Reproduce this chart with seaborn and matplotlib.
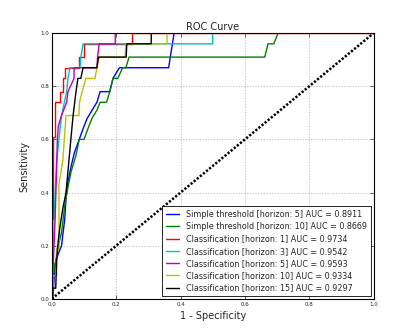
import numpy as np
import pandas as pd
import matplotlib
matplotlib.use("Agg")
import matplotlib.pyplot as plt
import seaborn as sns

labels = [
    "Simple threshold [horizon: 5] AUC = 0.8911",
    "Simple threshold [horizon: 10] AUC = 0.8669",
    "Classification [horizon: 1] AUC = 0.9734",
    "Classification [horizon: 3] AUC = 0.9542",
    "Classification [horizon: 5] AUC = 0.9593",
    "Classification [horizon: 10] AUC = 0.9334",
    "Classification [horizon: 15] AUC = 0.9297",
]
colors = ["#0000ff", "#008000", "#ff0000", "#00bfbf", "#bf00bf", "#bfbf00", "#000000"]

fpr_simple5 = [0, 0.005, 0.01, 0.02, 0.03, 0.04, 0.045, 0.05, 0.06, 0.07, 0.085, 0.1, 0.11, 0.125,
               0.14, 0.15, 0.18, 0.19, 0.21, 0.363, 0.38, 1.0]
tpr_simple5 = [0, 0.04, 0.13, 0.17, 0.2, 0.3, 0.4, 0.44, 0.5, 0.55, 0.6, 0.65, 0.68, 0.71,
               0.74, 0.78, 0.78, 0.83, 0.87, 0.87, 1.0, 1.0]

fpr_simple10 = [0, 0.005, 0.01, 0.02, 0.03, 0.04, 0.05, 0.06, 0.065, 0.075, 0.085, 0.1, 0.115, 0.125,
                0.14, 0.15, 0.17, 0.18, 0.19, 0.205, 0.22, 0.23, 0.24, 0.662, 0.672, 0.69, 0.703, 1.0]
tpr_simple10 = [0, 0.09, 0.13, 0.2, 0.25, 0.35, 0.42, 0.48, 0.5, 0.54, 0.6, 0.6, 0.65, 0.68,
                0.71, 0.74, 0.74, 0.78, 0.83, 0.83, 0.87, 0.87, 0.91, 0.91, 0.96, 0.96, 1.0, 1.0]

fpr_cls1 = [0, 0, 0.004, 0.004, 0.01, 0.01, 0.025, 0.025, 0.035, 0.035, 0.04, 0.04, 0.085, 0.085,
            0.1, 0.1, 0.25, 0.25, 1.0]
tpr_cls1 = [0, 0.3, 0.3, 0.61, 0.61, 0.74, 0.74, 0.78, 0.78, 0.83, 0.83, 0.87, 0.87, 0.91,
            0.91, 0.96, 0.96, 1.0, 1.0]

fpr_cls3 = [0, 0.005, 0.01, 0.015, 0.022, 0.03, 0.046, 0.05, 0.056, 0.0875, 0.09, 0.097, 0.5, 0.5, 1.0]
tpr_cls3 = [0, 0.2, 0.4, 0.52, 0.6, 0.69, 0.78, 0.83, 0.87, 0.87, 0.91, 0.96, 0.96, 1.0, 1.0]

fpr_cls5 = [0, 0.005, 0.01, 0.015, 0.017, 0.02, 0.03, 0.046, 0.05, 0.069, 0.069, 0.14, 0.142, 0.147,
            0.197, 0.197, 1.0]
tpr_cls5 = [0, 0.15, 0.3, 0.5, 0.6, 0.65, 0.69, 0.74, 0.78, 0.83, 0.87, 0.87, 0.91, 0.96,
            0.96, 1.0, 1.0]

fpr_cls10 = [0, 0.003, 0.003, 0.015, 0.015, 0.022, 0.022, 0.034, 0.044, 0.084, 0.086, 0.094, 0.106,
             0.134, 0.14, 0.147, 0.228, 0.23, 0.358, 0.358, 1.0]
tpr_cls10 = [0, 0.0, 0.087, 0.087, 0.19, 0.19, 0.43, 0.52, 0.69, 0.69, 0.74, 0.78, 0.83,
             0.83, 0.87, 0.91, 0.91, 0.96, 0.96, 1.0, 1.0]

fpr_cls15 = [0, 0.003, 0.003, 0.012, 0.015, 0.02, 0.025, 0.034, 0.044, 0.05, 0.059, 0.066, 0.075,
             0.081, 0.09, 0.097, 0.14, 0.145, 0.231, 0.233, 0.309, 0.309, 1.0]
tpr_cls15 = [0, 0.0, 0.04, 0.04, 0.15, 0.22, 0.27, 0.34, 0.4, 0.48, 0.6, 0.69, 0.78,
             0.83, 0.83, 0.87, 0.87, 0.91, 0.91, 0.96, 0.96, 1.0, 1.0]

curves = [
    (fpr_simple5, tpr_simple5), (fpr_simple10, tpr_simple10), (fpr_cls1, tpr_cls1),
    (fpr_cls3, tpr_cls3), (fpr_cls5, tpr_cls5), (fpr_cls10, tpr_cls10), (fpr_cls15, tpr_cls15),
]

frames = []
for lab, (f, t) in zip(labels, curves):
    frames.append(pd.DataFrame({"fpr": f, "tpr": t, "model": lab, "order": np.arange(len(f))}))
df = pd.concat(frames, ignore_index=True)

sns.set_style("ticks")
plt.rcParams["font.family"] = ["DejaVu Sans"]

fig = plt.figure(figsize=(4.15, 3.32), dpi=100)
ax = fig.add_axes([0.125, 0.1, 0.775, 0.8])

sns.lineplot(data=df, x="fpr", y="tpr", hue="model", hue_order=labels,
             palette=colors, sort=False, estimator=None, linewidth=1.0, ax=ax)

diag = pd.DataFrame({"x": [0.0, 1.0], "y": [0.0, 1.0]})
sns.lineplot(data=diag, x="x", y="y", color="black", linewidth=1.8, ax=ax,
             linestyle=(0, (0.9, 0.7)), legend=False)

ax.set_xlim(0, 1)
ax.set_ylim(0, 1)
ax.set_xticks([0.0, 0.2, 0.4, 0.6, 0.8, 1.0])
ax.set_yticks([0.0, 0.2, 0.4, 0.6, 0.8, 1.0])
ax.tick_params(direction="in", labelsize=4, length=3, width=0.5, top=True, right=True, pad=2)
ax.grid(True, linestyle=(0, (2, 2)), color="#b0b0b0", linewidth=0.5)
for s in ax.spines.values():
    s.set_color("black")
    s.set_linewidth(0.8)

ax.set_xlabel("1 - Specificity", fontsize=7, labelpad=3)
ax.set_ylabel("Sensitivity", fontsize=7, labelpad=8)
ax.set_title("ROC Curve", fontsize=7, pad=2)

leg = ax.legend(loc="lower right", fontsize=5.8, frameon=True, fancybox=False,
                handlelength=1.6, handletextpad=0.9, borderpad=0.5, labelspacing=0.4,
                borderaxespad=0.3)
leg.get_frame().set_edgecolor("black")
leg.get_frame().set_linewidth(0.6)
leg.get_frame().set_alpha(1.0)

fig.savefig("out.png", dpi=100)
